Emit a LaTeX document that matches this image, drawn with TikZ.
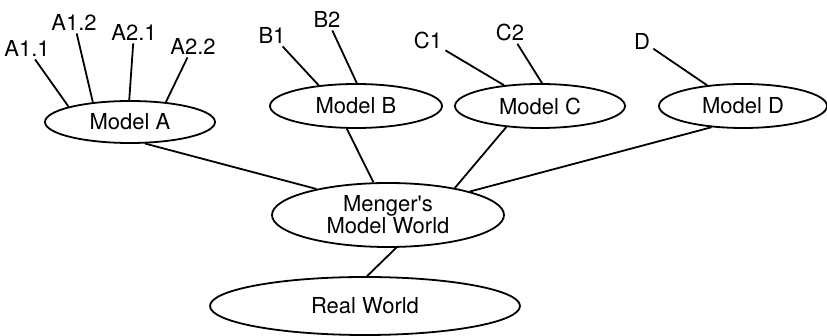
\documentclass[tikz,border=0pt]{standalone}
\usepackage{fontspec}
\setmainfont{TeX Gyre Heros}[Ligatures=TeXOff]
\usetikzlibrary{shapes.geometric}

\begin{document}
\begin{tikzpicture}[x=0.5pt,y=-0.5pt,% pixel-like units, y pointing down
		every node/.style={
			align=center,  		% "\\" breaks the line
			font=\fontsize{11}{11}\selectfont
		},
		model/.style={ellipse,draw,line width=0.9pt,inner sep=0pt},
		leaf/.style={inner sep=1.5pt},
		every edge/.style={draw,line width=0.9pt}
	]
	\useasboundingbox (0,0) rectangle (827,336);
	% the models
	\node[model,minimum width=85pt,minimum height=21pt](MA) at (130,122){Model A};
	\node[model,minimum width=86pt,minimum height=22pt](MB) at (356,106){Model B};
	\node[model,minimum width=85pt,minimum height=22pt](MC) at (540,106){Model C};
	\node[model,minimum width=84pt,minimum height=22pt](MD) at (743,106){Model D};
	\node[model,minimum width=116pt,minimum height=32pt](MW) at (388,215){Menger's \\ Model World};
	\node[model,minimum width=155pt,minimum height=29pt](RW) at (365,306){Real World};
	% the leaves
	\node[leaf](A11) at (27,48){A1.1};
	\node[leaf](A12) at (74,22){A1.2};
	\node[leaf](A21) at (134,32){A2.1};
	\node[leaf](A22) at (193,46){A2.2};
	\node[leaf](B1) at (272,35){B1};
	\node[leaf](B2) at (327,19){B2};
	\node[leaf](C1) at (428,40){C1};
	\node[leaf](C2) at (510,32){C2};
	\node[leaf](D) at (642,41){D};
	\path
	(A11)edge (MA.166)
	(A12)edge (MA.152)
	(A21)edge (MA.92)
	(A22)edge (MA.29)
	(B1)edge (MB.151)
	(B2)edge (MB.88)
	(C1)edge (MC.150)
	(C2)edge (MC.85)
	(D)edge (MD.150)
	(MA.-55)edge (MW.160)
	(MB.-112)edge (MW.114)
	(MC.-148)edge (MW.22)
	(MD.-146)edge (MW.16)
	(MW.-76)edge (RW.86)
	;
\end{tikzpicture}
\end{document}
